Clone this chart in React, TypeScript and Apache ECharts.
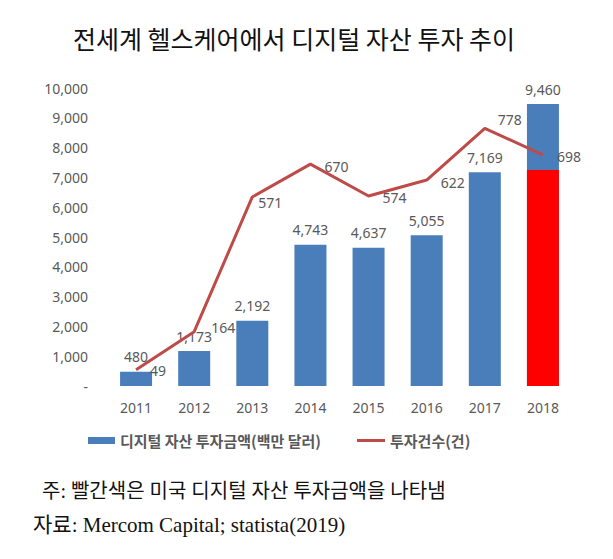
import React, { useEffect, useRef } from "react";
import * as echarts from "echarts";

const TITLE = "전세계 헬스케어에서 디지털 자산 투자 추이";
const NOTE = "주: 빨간색은 미국 디지털 자산 투자금액을 나타냄";
const SOURCE = "자료: Mercom Capital; statista(2019)";
const years = ["2011", "2012", "2013", "2014", "2015", "2016", "2017", "2018"];
const amountName = "디지털 자산 투자금액(백만 달러)";
const countName = "투자건수(건)";
const usName = "미국 투자금액";
const amounts = [480, 1173, 2192, 4743, 4637, 5055, 7169, 9460];
const usAmounts = [null, null, null, null, null, null, null, 7250];
const counts = [49, 164, 571, 670, 574, 622, 778, 698];
const countLabelOffsets = [[0, 1], [3, -4], [-8, 6], [0, 2], [0, 2], [0, 2], [-1, -9], [0, 2]];

export default function App() {
  const ref = useRef<HTMLDivElement>(null);
  useEffect(() => {
    document.body.style.margin = "0";
    const chart = echarts.init(ref.current!, null, { renderer: "svg" });
    const gray = "#595959";
    const numFont = "'Noto Sans', sans-serif";
    chart.setOption({
      animation: false,
      backgroundColor: "#ffffff",
      title: {
        text: TITLE,
        left: 68,
        top: 20,
        textStyle: {
          fontFamily: "'Noto Sans CJK KR', sans-serif",
          fontSize: 25,
          fontWeight: "normal",
          color: "#111111",
        },
      },
      grid: { left: 107, right: 41, top: 88, bottom: 173 },
      legend: [
        {
          data: [{ name: amountName, icon: "rect" }],
          left: 83,
          top: 428,
          itemWidth: 27,
          itemHeight: 7,
          itemGap: 4,
          textStyle: {
            fontFamily: "'Noto Sans CJK KR', sans-serif",
            fontSize: 15,
            fontWeight: "bold",
            color: gray,
          },
        },
        {
          data: [{ name: countName, icon: "rect" }],
          left: 352,
          top: 428,
          itemWidth: 28,
          itemHeight: 3,
          textStyle: {
            fontFamily: "'Noto Sans CJK KR', sans-serif",
            fontSize: 15,
            fontWeight: "bold",
            color: gray,
          },
        },
      ],
      xAxis: {
        type: "category",
        data: years,
        axisLine: { show: false },
        axisTick: { show: false },
        axisLabel: { color: gray, fontSize: 14, fontFamily: numFont, margin: 14 },
      },
      yAxis: [
        {
          type: "value",
          min: 0,
          max: 10000,
          interval: 1000,
          splitLine: { show: false },
          axisLine: { show: false },
          axisTick: { show: false },
          axisLabel: {
            color: gray,
            fontSize: 14,
            fontFamily: numFont,
            margin: 19,
            formatter: (v: number) => (v === 0 ? "-" : v.toLocaleString("en-US")),
          },
        },
        {
          type: "value",
          min: 0,
          max: 900,
          show: false,
          splitLine: { show: false },
        },
      ],
      series: [
        {
          name: amountName,
          type: "bar",
          data: amounts,
          barWidth: 32,
          itemStyle: { color: "#4a7ebb" },
          label: {
            show: true,
            position: "top",
            distance: 8,
            color: gray,
            fontSize: 14,
            fontFamily: numFont,
            formatter: (p: any) => Number(p.value).toLocaleString("en-US"),
          },
          z: 2,
        },
        {
          name: usName,
          type: "bar",
          data: usAmounts,
          barWidth: 32,
          barGap: "-100%",
          itemStyle: { color: "#ff0000" },
          z: 3,
        },
        {
          name: countName,
          type: "line",
          yAxisIndex: 1,
          data: counts.map((v, i) => ({
            value: v,
            label: { offset: countLabelOffsets[i] },
          })),
          showSymbol: true,
          symbol: "circle",
          symbolSize: 0,
          lineStyle: { color: "#be4b48", width: 3 },
          itemStyle: { color: "#be4b48" },
          label: {
            show: true,
            position: "right",
            distance: 14,
            color: gray,
            fontSize: 14,
            fontFamily: numFont,
          },
          z: 5,
        },
      ],
      graphic: [
        {
          type: "text",
          left: 42,
          top: 481,
          style: {
            text: NOTE,
            fontSize: 20,
            fontFamily: "'Liberation Serif', 'Noto Sans CJK KR', serif",
            fill: "#111111",
          },
        },
        {
          type: "text",
          left: 33,
          top: 514,
          style: {
            text: SOURCE,
            fontSize: 21,
            fontFamily: "'Liberation Serif', 'Noto Sans CJK KR', serif",
            fill: "#111111",
          },
        },
      ],
    });
    return () => chart.dispose();
  }, []);
  return <div ref={ref} style={{ width: 613, height: 559 }} />;
}
